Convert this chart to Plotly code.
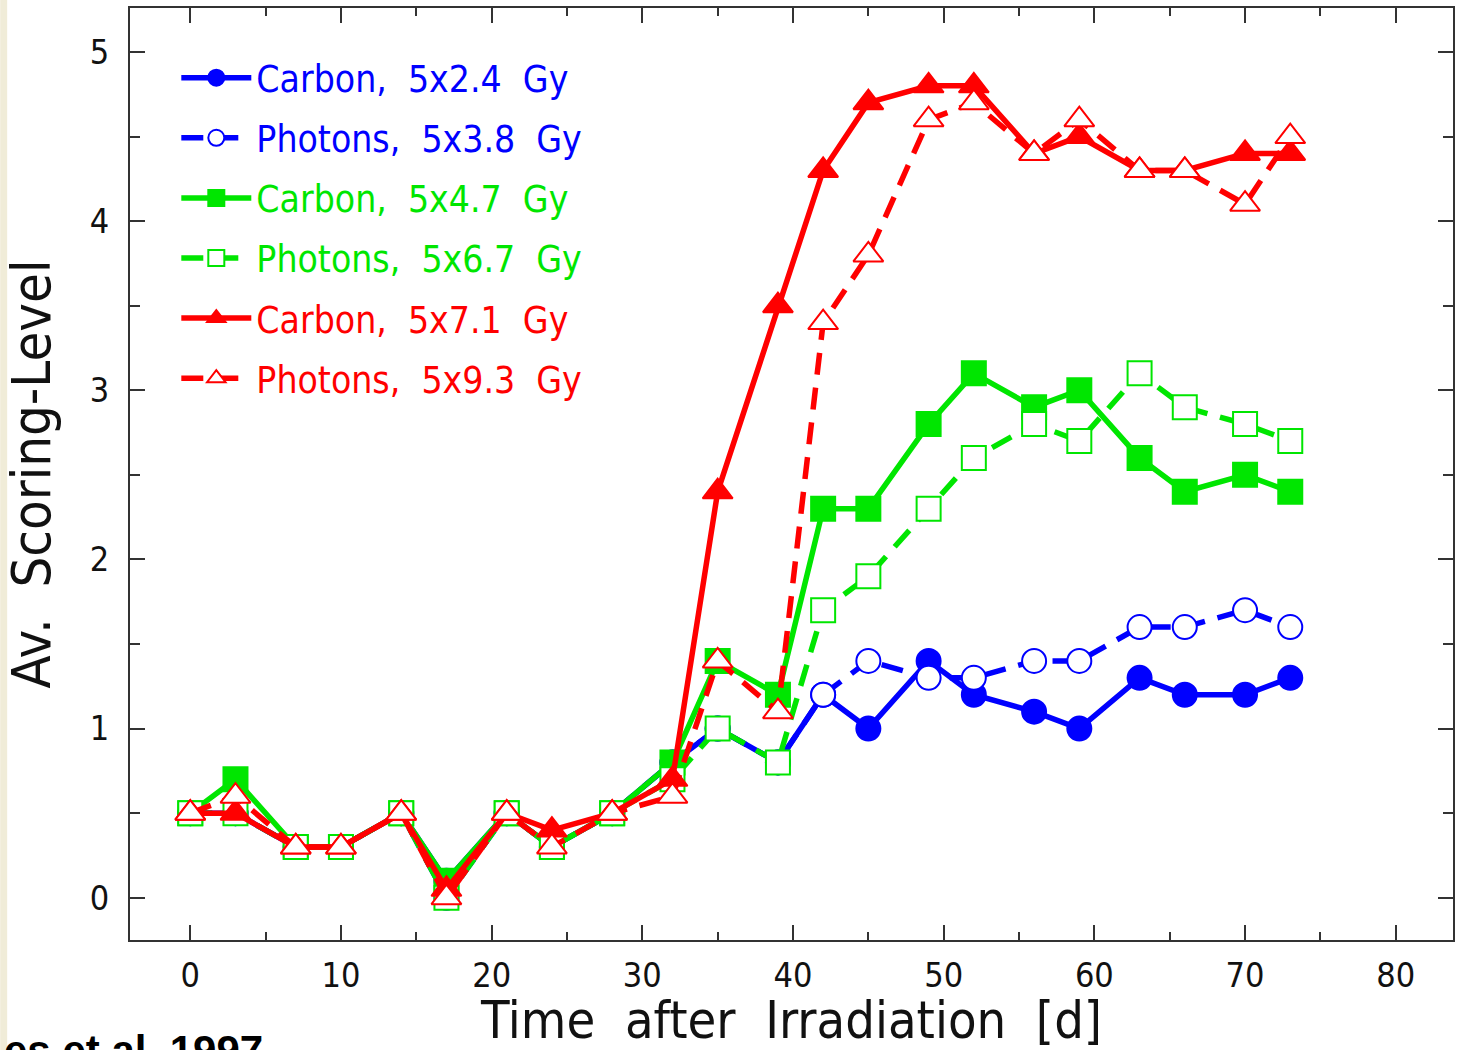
import plotly.graph_objects as go

days = [0, 3, 7, 10, 14, 17, 21, 24, 28, 32, 35, 39, 42, 45, 49, 52, 56, 59, 63, 66, 70, 73]

carbon_24 = [0.5, 0.5, 0.3, 0.3, 0.5, 0.1, 0.5, 0.3, 0.5, 0.8, 1.0, 0.8, 1.2, 1.0, 1.4, 1.2, 1.1, 1.0, 1.3, 1.2, 1.2, 1.3]
photons_38 = [0.5, 0.5, 0.3, 0.3, 0.5, 0.0, 0.5, 0.3, 0.5, 0.8, 1.0, 0.8, 1.2, 1.4, 1.3, 1.3, 1.4, 1.4, 1.6, 1.6, 1.7, 1.6]
carbon_47 = [0.5, 0.7, 0.3, 0.3, 0.5, 0.1, 0.5, 0.3, 0.5, 0.8, 1.4, 1.2, 2.3, 2.3, 2.8, 3.1, 2.9, 3.0, 2.6, 2.4, 2.5, 2.4]
photons_67 = [0.5, 0.5, 0.3, 0.3, 0.5, 0.0, 0.5, 0.3, 0.5, 0.7, 1.0, 0.8, 1.7, 1.9, 2.3, 2.6, 2.8, 2.7, 3.1, 2.9, 2.8, 2.7]
carbon_71 = [0.5, 0.5, 0.3, 0.3, 0.5, 0.05, 0.5, 0.4, 0.5, 0.7, 2.4, 3.5, 4.3, 4.7, 4.8, 4.8, 4.4, 4.5, 4.3, 4.3, 4.4, 4.4]
photons_93 = [0.5, 0.6, 0.3, 0.3, 0.5, 0.0, 0.5, 0.3, 0.5, 0.6, 1.4, 1.1, 3.4, 3.8, 4.6, 4.7, 4.4, 4.6, 4.3, 4.3, 4.1, 4.5]

series_names = ["Carbon,  5x2.4  Gy", "Photons,  5x3.8  Gy", "Carbon,  5x4.7  Gy",
                "Photons,  5x6.7  Gy", "Carbon,  5x7.1  Gy", "Photons,  5x9.3  Gy"]
series_values = [carbon_24, photons_38, carbon_47, photons_67, carbon_71, photons_93]
colors = ["#0000ff", "#0000ff", "#00e600", "#00e600", "#ff0000", "#ff0000"]
symbols = ["circle", "circle", "square", "square", "triangle-up", "triangle-up"]
filled = [True, False, True, False, True, False]

FONT = "DejaVu Sans Condensed, Liberation Sans Narrow, sans-serif"

fig = go.Figure()
for i, (nm, vals) in enumerate(zip(series_names, series_values)):
    c = colors[i]
    fig.add_trace(go.Scatter(
        x=days, y=vals, mode="lines+markers",
        name=f"<span style='color:{c}'>{nm}</span>",
        legendgroup=f"g{i}",
        line=dict(color=c, width=5.5, dash="solid" if filled[i] else "22px,13px"),
        marker=dict(symbol=symbols[i], size=24 if symbols[i] != "triangle-up" else 26,
                    color=c if filled[i] else "white",
                    line=dict(color=c, width=2)),
    ))

axis_common = dict(
    showline=True, linecolor="#333333", linewidth=2, mirror="allticks",
    ticks="inside", ticklen=15, tickwidth=2, tickcolor="#333333",
    showgrid=False, zeroline=False,
    tickfont=dict(family=FONT, size=34, color="#111111"),
)

fig.update_xaxes(
    range=[-4, 83.8], tickvals=[0, 10, 20, 30, 40, 50, 60, 70, 80],
    minor=dict(ticks="inside", ticklen=8, tickwidth=2, tickcolor="#333333", dtick=5, tick0=0, showgrid=False),
    title=dict(text="Time  after  Irradiation  [d]", font=dict(family=FONT, size=52, color="#111111"), standoff=8),
    ticklabelstandoff=4,
    **axis_common,
)
fig.update_yaxes(
    range=[-0.25, 5.26], tickvals=[0, 1, 2, 3, 4, 5],
    minor=dict(ticks="inside", ticklen=10, tickwidth=2, tickcolor="#333333", dtick=0.5, tick0=0, showgrid=False),
    title=dict(text="Av.  Scoring-Level", font=dict(family=FONT, size=54, color="#111111"), standoff=22),
    ticklabelstandoff=12,
    **axis_common,
)

fig.update_layout(
    width=1458, height=1050,
    margin=dict(l=130, r=3, t=8, b=110),
    plot_bgcolor="white", paper_bgcolor="white",
    showlegend=True,
    legend=dict(
        x=0.035, y=0.958, xanchor="left", yanchor="top",
        bgcolor="rgba(0,0,0,0)", borderwidth=0,
        font=dict(family=FONT, size=37),
        itemwidth=70, tracegroupgap=9,
    ),
    shapes=[dict(type="rect", xref="paper", yref="paper",
                 x0=-130 / 1325, x1=-123 / 1325, y0=-110 / 932, y1=1 + 8 / 932,
                 fillcolor="#f0ecd8", line=dict(width=0), layer="below")],
    annotations=[dict(text="<b>es et al. 1997</b>", xref="paper", yref="paper",
                      x=-128 / 1325, y=-(1050 - 940) / 932, xanchor="left", yanchor="middle",
                      showarrow=False, font=dict(family="Liberation Sans, Arial, sans-serif", size=42, color="black"))],
)

fig.write_html("out.html")
